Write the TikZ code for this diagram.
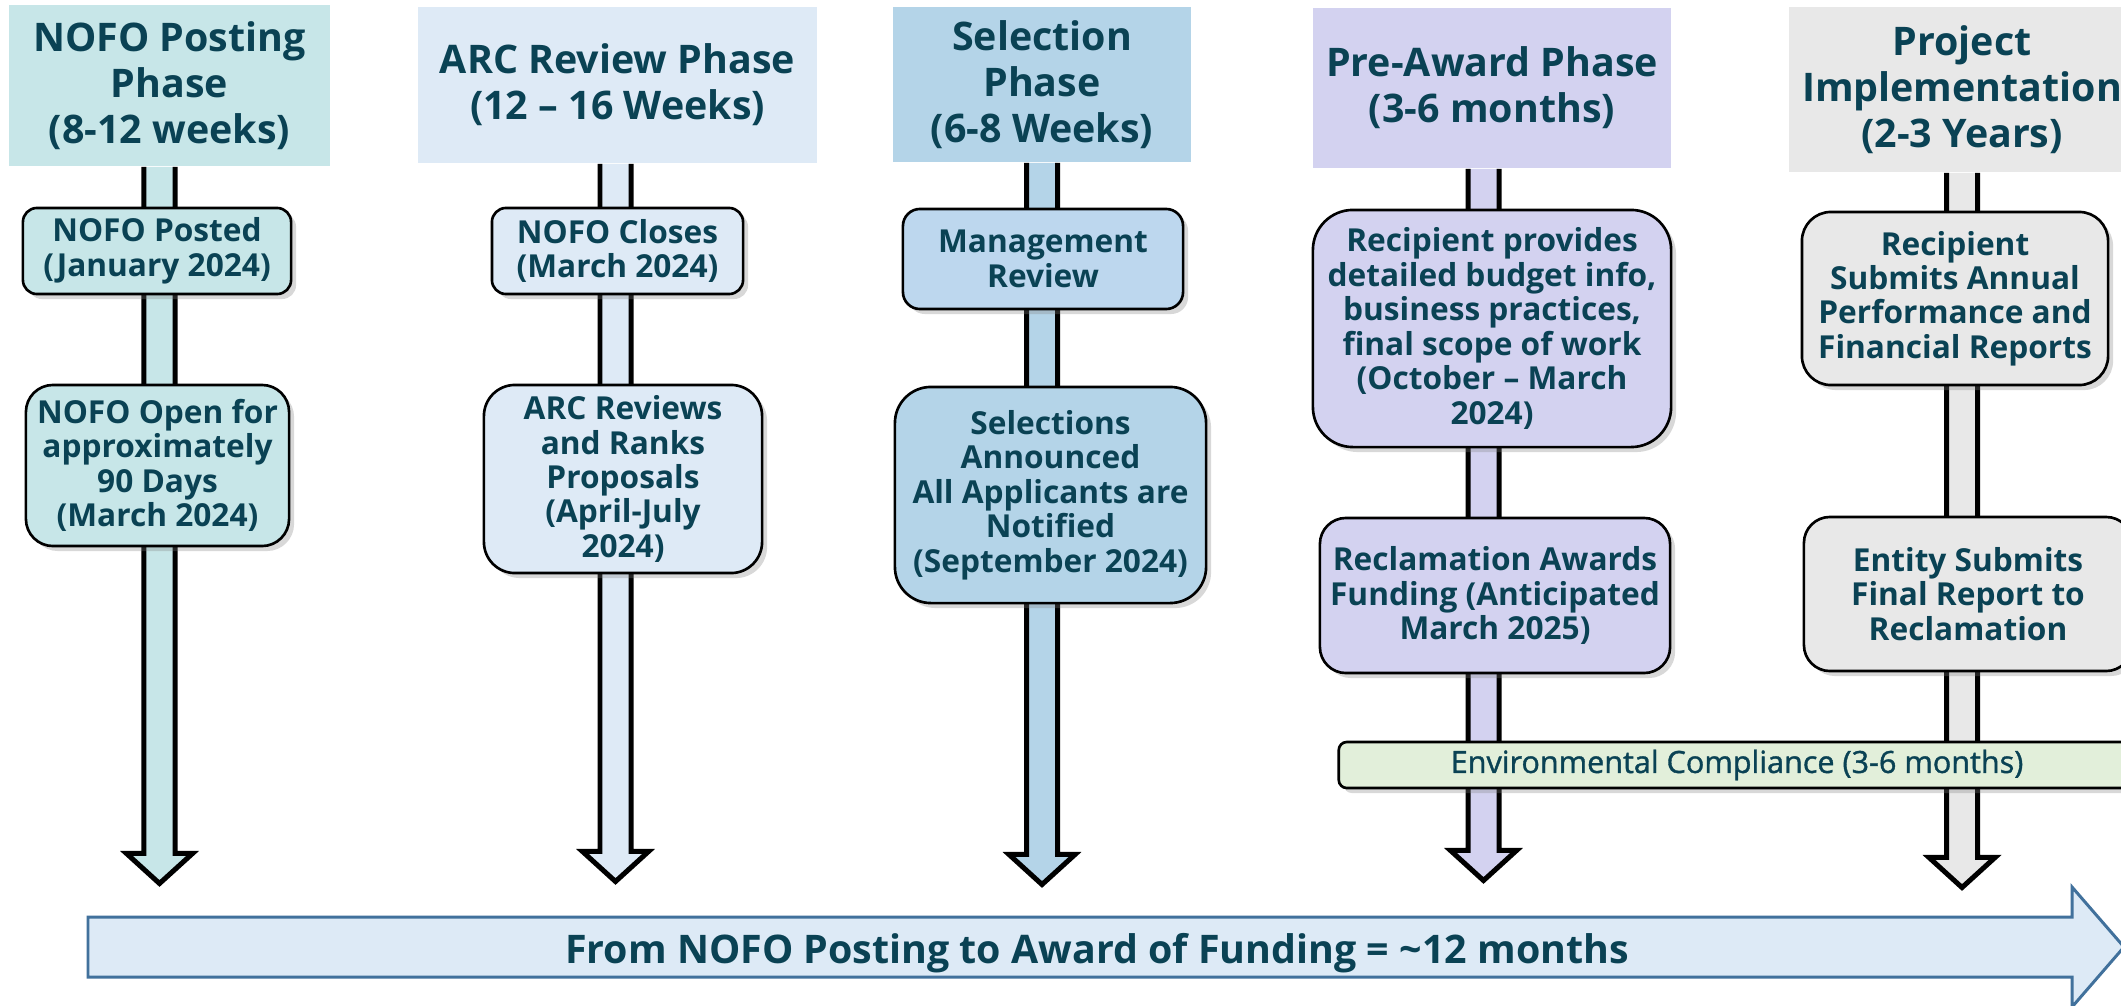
\documentclass[tikz,border=0pt]{standalone}
\usepackage{fontspec}
\setmainfont{Open Sans}
\newfontfamily\envfont{Open Sans}[FakeBold=1.2]
\usetikzlibrary{shadows,calc}
\definecolor{txt}{RGB}{10,66,84}
\definecolor{cA}{RGB}{199,230,232}
\definecolor{cB}{RGB}{222,234,246}
\definecolor{cC}{RGB}{180,212,232}
\definecolor{cCb}{RGB}{189,215,238}
\definecolor{cD}{RGB}{211,210,240}
\definecolor{cE}{RGB}{232,232,232}
\definecolor{cenv}{RGB}{226,239,218}
\definecolor{barfill}{RGB}{221,234,246}
\definecolor{barline}{RGB}{65,113,156}
\newcommand\hdrfont{\bfseries\fontsize{11.2}{13.1}\selectfont}
\newcommand\boxfont{\bfseries\fontsize{9.0}{9.8}\selectfont}
\newcommand\phasearrow[3]{%
  \fill[#3] let \p1=(#2), \p2=(#1.south) in
   (\x1-0.155cm,\y2) -- (\x1-0.155cm,\y1+0.3cm) -- (\x1-0.33cm,\y1+0.3cm) -- (\x1,\y1)
   -- (\x1+0.33cm,\y1+0.3cm) -- (\x1+0.155cm,\y1+0.3cm) -- (\x1+0.155cm,\y2) -- cycle;
  \draw[shaftline] let \p1=(#2), \p2=(#1.south) in
   (\x1-0.155cm,\y2) -- (\x1-0.155cm,\y1+0.3cm) -- (\x1-0.33cm,\y1+0.3cm) -- (\x1,\y1)
   -- (\x1+0.33cm,\y1+0.3cm) -- (\x1+0.155cm,\y1+0.3cm) -- (\x1+0.155cm,\y2);
}
\begin{document}
\begin{tikzpicture}[x=0.01cm,y=-0.01cm,
  hdr/.style={rectangle, inner sep=0pt, align=center, text=txt, font=\hdrfont},
  stagebox/.style={draw=black, line width=0.75pt, rounded corners=#1, inner sep=0pt,
    align=center, text=txt, font=\boxfont,
    drop shadow={shadow xshift=0.05cm, shadow yshift=-0.05cm, opacity=0.3}},
  stagebox/.default=0.15cm,
  shaftline/.style={draw=black, line width=1.42pt, miter limit=10}]
\path[use as bounding box, fill=white] (0,0) rectangle (2121,1006);

% phase headers
\node[hdr, fill=cA, minimum width=3.21cm, minimum height=1.61cm] (h1) at (169.5,85.5) {NOFO Posting\\Phase\\(8-12 weeks)};
\node[hdr, fill=cB, minimum width=3.99cm, minimum height=1.56cm] (h2) at (617.5,85) {ARC Review Phase\\(12 – 16 Weeks)};
\node[hdr, fill=cC, minimum width=2.98cm, minimum height=1.55cm] (h3) at (1042,84.5) {Selection\\Phase\\(6-8 Weeks)};
\node[hdr, fill=cD, minimum width=3.58cm, minimum height=1.60cm] (h4) at (1492,88) {Pre-Award Phase\\(3-6 months)};
\node[hdr, fill=cE, minimum width=3.46cm, minimum height=1.65cm] (h5) at (1962,89.5) {Project\\Implementation\\(2-3 Years)};

% arrow tips
\coordinate (tip1) at (159.5,883.5);
\coordinate (tip2) at (615.5,881.5);
\coordinate (tip3) at (1042,884.5);
\coordinate (tip4) at (1483.5,880.5);
\coordinate (tip5) at (1962,887.5);

\phasearrow{h1}{tip1}{cA}
\phasearrow{h2}{tip2}{cB}
\phasearrow{h3}{tip3}{cC}
\phasearrow{h4}{tip4}{cD}
\phasearrow{h5}{tip5}{cE}

% stage boxes
\node[stagebox=0.14cm, fill=cA, minimum width=2.68cm, minimum height=0.86cm] (b1a) at (157,251) {NOFO Posted\\(January 2024)};
\node[stagebox=0.27cm, fill=cA, minimum width=2.63cm, minimum height=1.61cm] (b1b) at (157.5,465.5) {NOFO Open for\\approximately\\90 Days\\(March 2024)};
\node[stagebox=0.14cm, fill=cB, minimum width=2.51cm, minimum height=0.86cm] (b2a) at (617.5,251) {NOFO Closes\\(March 2024)};
\node[stagebox=0.31cm, fill=cB, minimum width=2.78cm, minimum height=1.88cm] (b2b) at (623,479) {ARC Reviews\\and Ranks\\Proposals\\(April-July\\2024)};
\node[stagebox=0.17cm, fill=cCb, minimum width=2.80cm, minimum height=1.00cm] (b3a) at (1043,259) {Management\\Review};
\node[stagebox=0.36cm, fill=cC, minimum width=3.11cm, minimum height=2.16cm] (b3b) at (1050.5,495) {Selections\\Announced\\All Applicants are\\Notified\\(September 2024)};
\node[stagebox=0.40cm, fill=cD, minimum width=3.58cm, minimum height=2.37cm] (b4a) at (1492,328.5) {Recipient provides\\detailed budget info,\\business practices,\\final scope of work\\(October – March\\2024)};
\node[stagebox=0.26cm, fill=cD, minimum width=3.50cm, minimum height=1.55cm] (b4b) at (1495,595.5) {Reclamation Awards\\Funding (Anticipated\\March 2025)};
\node[stagebox=0.29cm, fill=cE, minimum width=3.06cm, minimum height=1.73cm] (b5a) at (1955,298.5) {Recipient\\Submits Annual\\Performance and\\Financial Reports};
\node[stagebox=0.26cm, fill=cE, minimum width=3.28cm, minimum height=1.54cm] (b5b) at (1968,594) {Entity Submits\\Final Report to\\Reclamation};

% environmental compliance bar
\node[stagebox=0.08cm, fill=cenv, minimum width=7.96cm, minimum height=0.46cm,
  font=\envfont\fontsize{8.7}{10}\selectfont] (env) at (1737,765) {Environmental Compliance (3-6 months)};

% timeline arrow
\coordinate (tl0) at (88,917);
\draw[draw=barline, fill=barfill, line width=0.85pt, miter limit=10]
  (tl0) -- (2072,917) -- (2072,887) -- (2124,947) -- (2072,1007) -- (2072,977) -- (88,977) -- cycle;
\node[anchor=base, text=txt, font=\bfseries\fontsize{11.2}{13}\selectfont, inner sep=0pt] (tltext) at (1097,963)
  {From NOFO Posting to Award of Funding = \textasciitilde12 months};
\end{tikzpicture}
\end{document}
